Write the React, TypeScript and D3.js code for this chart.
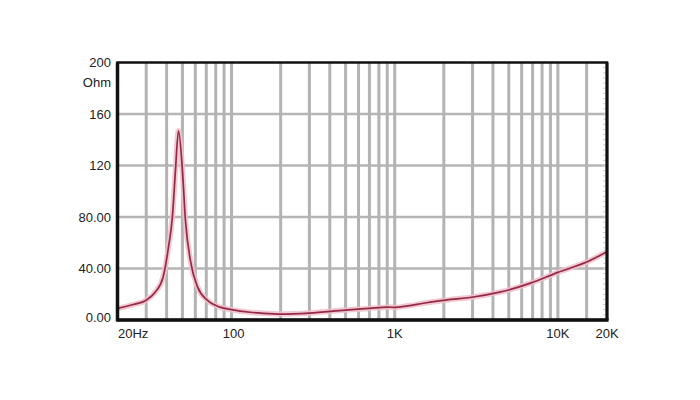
import React from "react";
import * as d3 from "d3";

const freqs = [20, 25, 30, 34, 38, 41, 43.4, 45.3, 47.3, 50, 52.2, 56, 62, 71, 85, 100, 130, 150, 200, 300, 500, 700, 900, 1000, 1200, 1500, 2200, 2900, 4400, 6800, 10000, 15000, 20000];
const ohms = [9, 12, 15.4, 21.6, 33, 56, 80, 116, 147, 116, 77, 46, 25.5, 15.4, 10, 8, 6, 5.4, 4.6, 5.4, 7.7, 9, 10, 9.8, 11, 13, 16, 17.5, 21.6, 28.6, 37, 45, 53];

const gridFreqs = [30, 40, 50, 60, 70, 80, 90, 100, 200, 300, 400, 500, 600, 700, 800, 900, 1000, 2000, 3000, 4000, 5000, 6000, 7000, 8000, 9000, 10000, 15000];
const gridOhms = [40, 80, 120, 160];
const yTickValues = [0, 40, 80, 120, 160, 200];
const yTickLabels = ["0.00", "40.00", "80.00", "120", "160", "200"];
const xTickValues = [20, 100, 1000, 10000, 20000];
const xTickLabels = ["20Hz", "100", "1K", "10K", "20K"];

export default function App() {
  const W = 700, H = 400;
  const L = 117.5, R = 607, T = 62.5, B = 320;
  const x = d3.scaleLog().domain([20, 20000]).range([L, R]);
  const y = d3.scaleLinear().domain([0, 200]).range([B, T]);
  const pts: [number, number][] = freqs.map((f, i) => [f, ohms[i]]);
  const line = d3
    .line<[number, number]>()
    .x((d) => x(d[0]))
    .y((d) => y(d[1]))
    .curve(d3.curveMonotoneX);
  const path = line(pts) || "";
  const font = "'Liberation Sans', Arial, sans-serif";
  const rightTicks = d3.range(0, 200, 4);
  return (
    <svg width={W} height={H} style={{ position: "absolute", left: 0, top: 0, background: "#fff" }}>
      <rect x={0} y={0} width={W} height={H} fill="#fff" />
      {gridOhms.map((v) => (
        <line key={"h" + v} x1={L} x2={R} y1={y(v)} y2={y(v)} stroke="#b5b5b5" strokeWidth={2.5} />
      ))}
      {gridFreqs.map((f) => (
        <line key={"v" + f} x1={x(f)} x2={x(f)} y1={T} y2={B} stroke="#b3b3b3" strokeWidth={3} />
      ))}
      {rightTicks.map((v) => (
        <line key={"rt" + v} x1={R - 4} x2={R} y1={y(v)} y2={y(v)} stroke="#d0d0d0" strokeWidth={1} />
      ))}
      <path d={path} fill="none" stroke="#eec0cb" strokeWidth={5.5} strokeLinejoin="round" opacity={0.85} />
      <path d={path} fill="none" stroke="#952946" strokeWidth={1.7} strokeLinejoin="round" />
      <path d={`M${L} ${T} H${R} V${B} H${L} Z`} fill="none" stroke="#111" strokeWidth={2.5} />
      <line x1={L} x2={L} y1={T} y2={B + 1.5} stroke="#111" strokeWidth={3.5} />
      <line x1={L} x2={R + 1.5} y1={B} y2={B} stroke="#111" strokeWidth={3.5} />
      <line x1={R} x2={R} y1={T} y2={B} stroke="#111" strokeWidth={3} />
      {yTickValues.map((v, i) => (
        <text
          key={"yl" + v}
          x={111}
          y={y(v) + (v === 0 ? -3 : 0) + 4.5}
          textAnchor="end"
          fontFamily={font}
          fontSize={13}
          fill="#222"
        >
          {yTickLabels[i]}
        </text>
      ))}
      <text x={111} y={86.5} textAnchor="end" fontFamily={font} fontSize={13} fill="#222">
        Ohm
      </text>
      {xTickValues.map((f, i) => (
        <text
          key={"xl" + f}
          x={i === 0 ? 118 : x(f) + (i === 1 ? 2 : 0)}
          y={338}
          textAnchor={i === 0 ? "start" : "middle"}
          fontFamily={font}
          fontSize={13}
          fill="#222"
        >
          {xTickLabels[i]}
        </text>
      ))}
    </svg>
  );
}
